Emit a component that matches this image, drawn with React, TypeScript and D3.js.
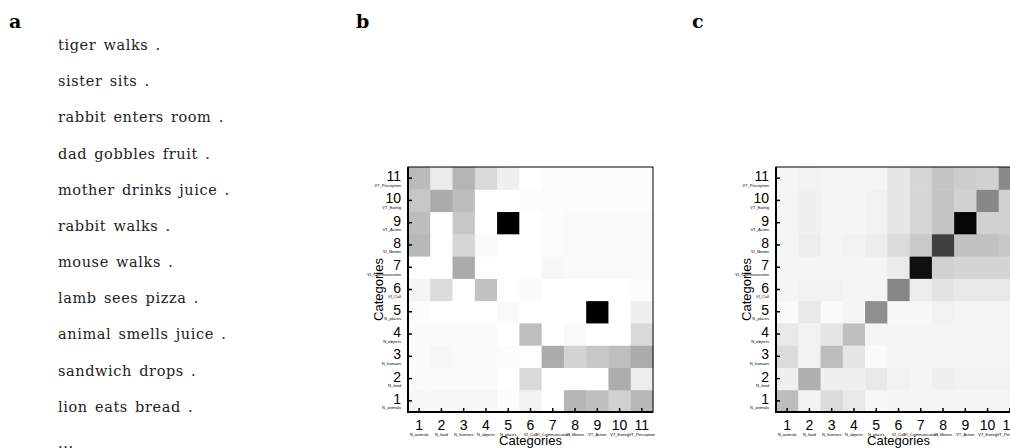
import * as d3 from 'd3';

// sentences shown in panel a
const sentences = [
  'tiger walks .',
  'sister sits .',
  'rabbit enters room .',
  'dad gobbles fruit .',
  'mother drinks juice .',
  'rabbit walks .',
  'mouse walks .',
  'lamb sees pizza .',
  'animal smells juice .',
  'sandwich drops .',
  'lion eats bread .',
  '...',
];

const categoryIds = ['1', '2', '3', '4', '5', '6', '7', '8', '9', '10', '11'];
const categoryNames = [
  'N_animals',
  'N_food',
  'N_humans',
  'N_objects',
  'N_places',
  'VI_Call',
  'VI_Communication',
  'VI_Motion',
  'VT_Action',
  'VT_Eating',
  'VT_Perception',
];

// darkness (0 = white, 1 = black); rows are y categories 1..11, columns x 1..11
const matrixB = [
  [0.03, 0.03, 0.03, 0.03, 0.01, 0.05, 0, 0.29, 0.25, 0.18, 0.28],
  [0.02, 0.02, 0.02, 0.02, 0, 0.15, 0, 0, 0, 0.32, 0.07],
  [0.02, 0.03, 0.02, 0.02, 0.01, 0, 0.33, 0.17, 0.22, 0.25, 0.33],
  [0.02, 0.02, 0.02, 0.02, 0, 0.25, 0, 0.02, 0, 0, 0.15],
  [0.01, 0, 0, 0, 0.02, 0, 0, 0, 1, 0, 0.06],
  [0.04, 0.14, 0, 0.24, 0, 0.02, 0, 0, 0, 0, 0.01],
  [0, 0, 0.33, 0, 0, 0, 0.03, 0.02, 0.02, 0.02, 0.02],
  [0.28, 0, 0.16, 0.02, 0, 0, 0.01, 0.02, 0.02, 0.02, 0.02],
  [0.26, 0, 0.22, 0, 1, 0, 0.01, 0.02, 0.02, 0.02, 0.02],
  [0.22, 0.33, 0.26, 0, 0, 0.01, 0.01, 0.01, 0.01, 0.01, 0.01],
  [0.27, 0.08, 0.29, 0.15, 0.06, 0, 0.01, 0.01, 0.01, 0.01, 0.01],
];

const matrixC = [
  [0.26, 0.05, 0.14, 0.09, 0.03, 0.04, 0.04, 0.04, 0.04, 0.04, 0.04],
  [0.06, 0.31, 0.06, 0.06, 0.09, 0.05, 0.04, 0.06, 0.05, 0.05, 0.05],
  [0.14, 0.05, 0.26, 0.1, 0.02, 0.04, 0.04, 0.04, 0.04, 0.04, 0.04],
  [0.09, 0.05, 0.1, 0.25, 0.04, 0.04, 0.04, 0.04, 0.04, 0.04, 0.04],
  [0.02, 0.09, 0.02, 0.04, 0.44, 0.03, 0.03, 0.05, 0.04, 0.04, 0.04],
  [0.04, 0.05, 0.05, 0.04, 0.04, 0.47, 0.07, 0.11, 0.09, 0.09, 0.09],
  [0.04, 0.04, 0.04, 0.04, 0.04, 0.08, 0.94, 0.18, 0.17, 0.17, 0.17],
  [0.04, 0.07, 0.04, 0.05, 0.07, 0.14, 0.21, 0.75, 0.24, 0.24, 0.22],
  [0.04, 0.06, 0.04, 0.04, 0.05, 0.1, 0.16, 0.23, 0.98, 0.18, 0.18],
  [0.04, 0.06, 0.04, 0.04, 0.05, 0.1, 0.16, 0.23, 0.18, 0.47, 0.18],
  [0.04, 0.05, 0.04, 0.04, 0.04, 0.1, 0.16, 0.23, 0.2, 0.18, 0.46],
];

const sans = '"Liberation Sans", Arial, sans-serif';
const serif = '"DejaVu Serif", serif';

const gray = d3.scaleLinear<string>().domain([0, 1]).range(['#ffffff', '#000000']);

function Heatmap({ matrix, left }: { matrix: number[][]; left: number }) {
  const top = 167,
    size = 245,
    bottom = top + size;

  const x = d3.scaleBand().domain(categoryIds).range([left, left + size]);
  const y = d3.scaleBand().domain(categoryIds).range([bottom, top]);
  const bw = x.bandwidth();

  const cells = matrix.flatMap((row, i) =>
    row.map((v, j) => ({ xi: categoryIds[j], yi: categoryIds[i], v }))
  );

  return (
    <g>
      {cells.map((c, k) => (
        <rect
          key={k}
          x={x(c.xi)}
          y={y(c.yi)}
          width={bw + 0.5}
          height={bw + 0.5}
          fill={gray(c.v)}
        />
      ))}
      {/* frame */}
      <rect x={left} y={top} width={size} height={size} fill="none" stroke="#000" strokeWidth={1} />
      <line x1={left} x2={left} y1={top} y2={bottom + 1} stroke="#000" strokeWidth={2} />
      <line x1={left - 1} x2={left + size} y1={bottom} y2={bottom} stroke="#000" strokeWidth={2} />

      {categoryIds.map((id, i) => {
        const cy = y(id)! + bw / 2;
        const cx = x(id)! + bw / 2;
        return (
          <g key={id}>
            <line x1={left} x2={left + 4} y1={cy} y2={cy} stroke="#000" strokeWidth={1.5} />
            <line x1={cx} x2={cx} y1={bottom} y2={bottom - 4} stroke="#000" strokeWidth={1.5} />
            <text x={left - 7} y={cy + 3} textAnchor="end" fontFamily={sans} fontSize={14}>
              {id}
            </text>
            <text x={left - 7} y={cy + 8.5} textAnchor="end" fontFamily={sans} fontSize={4}>
              {categoryNames[i]}
            </text>
            <text x={cx} y={bottom + 18} textAnchor="middle" fontFamily={sans} fontSize={14}>
              {id}
            </text>
            <text x={cx} y={bottom + 23.5} textAnchor="middle" fontFamily={sans} fontSize={4}>
              {categoryNames[i]}
            </text>
          </g>
        );
      })}
      <text
        x={left + size / 2}
        y={bottom + 33}
        textAnchor="middle"
        fontFamily={sans}
        fontSize={13}
      >
        Categories
      </text>
      <text
        transform={`translate(${left - 25},${top + size / 2}) rotate(-90)`}
        textAnchor="middle"
        fontFamily={sans}
        fontSize={13}
      >
        Categories
      </text>
    </g>
  );
}

export default function App() {
  const sy = d3
    .scaleLinear()
    .domain([0, sentences.length - 1])
    .range([50, 448]);

  return (
    <svg
      width={1010}
      height={448}
      style={{ position: 'absolute', left: 0, top: 0, background: '#fff' }}
    >
      <text x={9} y={28} fontFamily={serif} fontWeight="bold" fontSize={19}>
        a
      </text>
      <text x={356} y={28} fontFamily={serif} fontWeight="bold" fontSize={19}>
        b
      </text>
      <text x={692} y={28} fontFamily={serif} fontWeight="bold" fontSize={19}>
        c
      </text>
      {sentences.map((s, i) => (
        <text
          key={i}
          x={58}
          y={sy(i)}
          fontFamily={serif}
          fontSize={14.5}
          letterSpacing={0.6}
          wordSpacing={2}
          fill="#222"
        >
          {s}
        </text>
      ))}
      <Heatmap matrix={matrixB} left={408} />
      <Heatmap matrix={matrixC} left={776} />
    </svg>
  );
}
